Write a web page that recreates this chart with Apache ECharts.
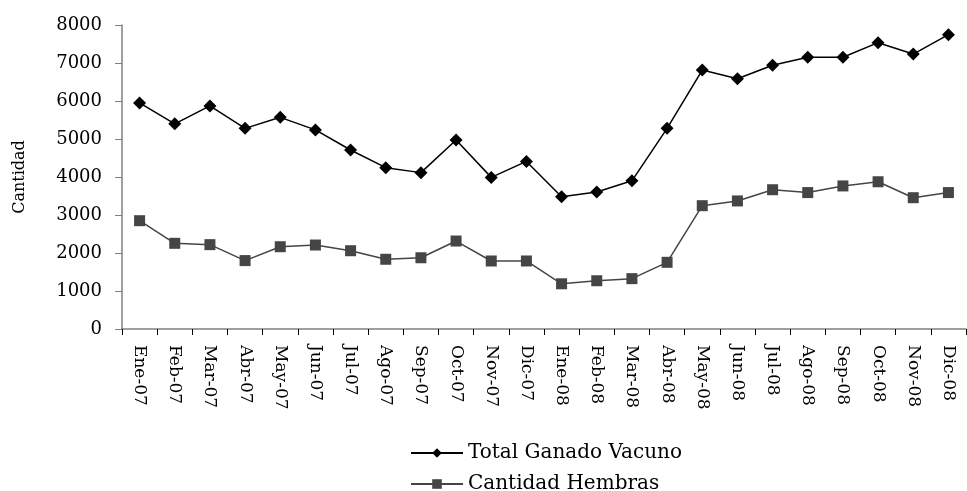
<!DOCTYPE html>
<html>
<head>
<meta charset="utf-8">
<script src="https://cdn.jsdelivr.net/npm/echarts@6/dist/echarts.min.js"></script>
<style>
  html, body { margin: 0; padding: 0; background: #fff; }
  #chart { width: 967px; height: 491px; }
</style>
</head>
<body>
<div id="chart"></div>
<script>
// meses
var meses = ['Ene-07', 'Feb-07', 'Mar-07', 'Abr-07', 'May-07', 'Jun-07', 'Jul-07', 'Ago-07',
  'Sep-07', 'Oct-07', 'Nov-07', 'Dic-07', 'Ene-08', 'Feb-08', 'Mar-08', 'Abr-08',
  'May-08', 'Jun-08', 'Jul-08', 'Ago-08', 'Sep-08', 'Oct-08', 'Nov-08', 'Dic-08'];

var totalGanado = [5950, 5400, 5870, 5280, 5570, 5240, 4710, 4245, 4115, 4975, 3990, 4410,
  3480, 3605, 3900, 5280, 6815, 6585, 6940, 7150, 7150, 7535, 7235, 7745];

var hembras = [2850, 2255, 2220, 1800, 2165, 2210, 2060, 1835, 1875, 2315, 1790, 1790,
  1190, 1270, 1325, 1755, 3245, 3370, 3665, 3590, 3765, 3875, 3455, 3590];

var fuente = 'DejaVu Serif';

var chart = echarts.init(document.getElementById('chart'));

// una leyenda por serie, una debajo de la otra
var leyendaBase = {
  left: 405,
  padding: [0, 5],
  itemWidth: 52,
  itemHeight: 12,
  itemGap: 4,
  textStyle: { fontFamily: fuente, fontSize: 20, color: '#000' }
};

var option = {
  backgroundColor: '#fff',
  animation: false,
  grid: { left: 122, right: 1, top: 25, bottom: 162 },
  legend: [
    Object.assign({}, leyendaBase, { top: 443, data: ['Total Ganado Vacuno'] }),
    Object.assign({}, leyendaBase, { top: 474, data: ['Cantidad Hembras'] })
  ],
  xAxis: {
    type: 'category',
    data: meses,
    boundaryGap: true,
    axisLine: { lineStyle: { color: '#808080', width: 1.5 } },
    axisTick: { show: true, length: 6, lineStyle: { color: '#000' } },
    axisLabel: {
      rotate: -90,
      interval: 0,
      margin: 16,
      fontFamily: fuente,
      fontSize: 17,
      color: '#000'
    }
  },
  yAxis: {
    type: 'value',
    min: 0,
    max: 8000,
    interval: 1000,
    name: 'Cantidad',
    nameLocation: 'middle',
    nameGap: 94,
    nameTextStyle: { fontFamily: fuente, fontSize: 16, color: '#000' },
    splitLine: { show: false },
    axisLine: { show: true, lineStyle: { color: '#808080', width: 1.5 } },
    axisTick: { show: true, length: 7, lineStyle: { color: '#808080' } },
    axisLabel: {
      margin: 20,
      fontFamily: fuente,
      fontSize: 18,
      color: '#000',
      formatter: function (v) { return String(v); }
    }
  },
  series: [
    {
      name: 'Total Ganado Vacuno',
      type: 'line',
      data: totalGanado,
      symbol: 'diamond',
      symbolSize: 13,
      lineStyle: { color: '#000', width: 1.5 },
      itemStyle: { color: '#000' }
    },
    {
      name: 'Cantidad Hembras',
      type: 'line',
      data: hembras,
      symbol: 'rect',
      symbolSize: 11,
      lineStyle: { color: '#454545', width: 1.5 },
      itemStyle: { color: '#454545' }
    }
  ]
};

chart.setOption(option);
</script>
</body>
</html>
